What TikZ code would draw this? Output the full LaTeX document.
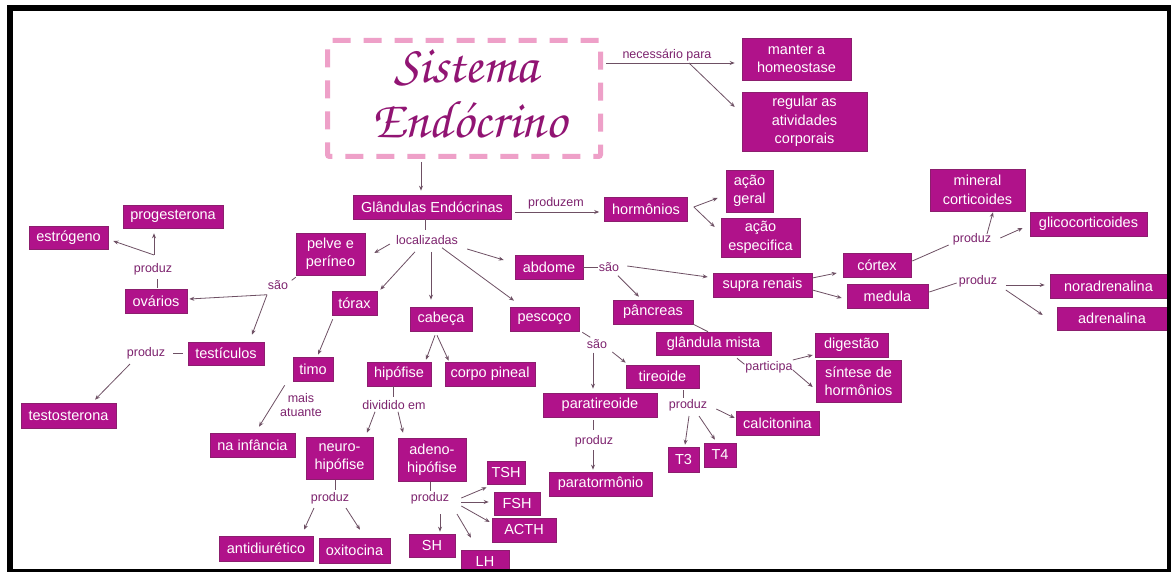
\documentclass[tikz,border=0pt]{standalone}
\usepackage{fontspec}
\setmainfont{Liberation Sans}
\newfontfamily\titlefont{texgyrechorus-mediumitalic.otf}
\usetikzlibrary{arrows.meta,calc}
\definecolor{boxc}{RGB}{176,18,138}
\definecolor{boxd}{RGB}{140,30,110}
\definecolor{lblc}{RGB}{125,35,110}
\definecolor{arrc}{RGB}{110,80,100}
\definecolor{titc}{RGB}{145,20,115}
\definecolor{dashc}{RGB}{238,160,200}
\newcommand\boxfont{\fontsize{14.5}{18.5}\selectfont}
\newcommand\lblfont{\fontsize{12.5}{14}\selectfont}
\tikzset{
  box/.style={fill=boxc, draw=boxd, line width=0.6pt, text=white, font=\boxfont, align=center, inner sep=0pt},
  sz/.style 2 args={minimum width=#1pt, minimum height=#2pt},
  lbl/.style={text=lblc, font=\lblfont, inner sep=1pt, align=center},
  conn/.style={draw=arrc, line width=0.8pt},
  arr/.style={conn, -{Stealth[length=5pt,width=4pt]}},
  titletxt/.style={text=titc, font=\titlefont\fontsize{53}{53}\selectfont, inner sep=0pt}
}
\begin{document}
\begin{tikzpicture}[x=1pt,y=-1pt]
\useasboundingbox (0,0) rectangle (1171,572);
\fill[white] (0,0) rectangle (1171,572);
% title
\node[draw=dashc, line width=5pt, dash pattern=on 18pt off 13pt, minimum width=273pt, minimum height=116pt, rounded corners=2pt] (title) at (464,98.5) {};
\node[titletxt, anchor=base] (sis) at (466,83) {Sistema};
\node[titletxt, anchor=base] (endo) at (469,138) {Endócrino};
% boxes
\node[box,sz={158}{24}] (glan) at (432,207) {Glândulas Endócrinas};
\node[box,sz={83}{24}] (horm) at (646,209) {hormônios};
\node[box,sz={47}{42}] (acger) at (749.5,191) {ação\\geral};
\node[box,sz={79}{39}] (acesp) at (760.5,237.5) {ação\\especifica};
\node[box,sz={109}{42}] (manter) at (796.5,59) {manter a\\homeostase};
\node[box,sz={125}{59}] (regular) at (804.5,121.5) {regular as\\atividades\\corporais};
\node[box,sz={69}{42}] (pelve) at (330.5,254) {pelve e\\períneo};
\node[box,sz={68}{24}] (abdome) at (549,267) {abdome};
\node[box,sz={45}{24}] (torax) at (354.5,303) {tórax};
\node[box,sz={62}{24}] (cabeca) at (441,319) {cabeça};
\node[box,sz={69}{24}] (pescoco) at (544.5,319) {pescoço};
\node[box,sz={40}{24}] (timo) at (313,369) {timo};
\node[box,sz={64}{24}] (hipof) at (399,374) {hipófise};
\node[box,sz={90}{24}] (pineal) at (490,374) {corpo pineal};
\node[box,sz={80}{24}] (pancreas) at (653,312) {pâncreas};
\node[box,sz={115}{23}] (mista) at (713.5,343.5) {glândula mista};
\node[box,sz={99}{24}] (supra) at (762.5,285) {supra renais};
\node[box,sz={68}{24}] (cortex) at (877,265) {córtex};
\node[box,sz={81}{24}] (medula) at (887.5,296) {medula};
\node[box,sz={95}{42}] (mineral) at (977.5,190) {mineral\\corticoides};
\node[box,sz={117}{24}] (glico) at (1088.5,224) {glicocorticoides};
\node[box,sz={117}{24}] (norad) at (1108.5,286) {noradrenalina};
\node[box,sz={110}{23}] (adren) at (1112,318.5) {adrenalina};
\node[box,sz={73}{24}] (digest) at (851.5,345) {digestão};
\node[box,sz={85}{42}] (sintese) at (858.5,381) {síntese de\\hormônios};
\node[box,sz={73}{23}] (tireoide) at (662.5,376.5) {tireoide};
\node[box,sz={114}{24}] (parat) at (600,405) {paratireoide};
\node[box,sz={103}{24}] (paratorm) at (600.5,484) {paratormônio};
\node[box,sz={31}{25}] (T3) at (683.5,459.5) {T3};
\node[box,sz={32}{24}] (T4) at (720,455) {T4};
\node[box,sz={83}{24}] (calcit) at (777.5,423) {calcitonina};
\node[box,sz={100}{23}] (progest) at (173,216.5) {progesterona};
\node[box,sz={79}{23}] (estrog) at (68.5,237.5) {estrógeno};
\node[box,sz={62}{24}] (ovarios) at (156,301) {ovários};
\node[box,sz={76}{23}] (testic) at (226,353.5) {testículos};
\node[box,sz={95}{25}] (testost) at (68.5,415.5) {testosterona};
\node[box,sz={85}{24}] (infancia) at (252.5,445) {na infância};
\node[box,sz={67}{42}] (neuro) at (339.5,458) {neuro-\\hipófise};
\node[box,sz={68}{43}] (adeno) at (432,459.5) {adeno-\\hipófise};
\node[box,sz={94}{25}] (antid) at (266,548.5) {antidiurético};
\node[box,sz={71}{25}] (oxit) at (354.5,550.5) {oxitocina};
\node[box,sz={38}{23}] (TSH) at (506,472.5) {TSH};
\node[box,sz={46}{23}] (FSH) at (517,503.5) {FSH};
\node[box,sz={64}{24}] (ACTH) at (524,530) {ACTH};
\node[box,sz={46}{23}] (SH) at (432,545.5) {SH};
\node[box,sz={48}{24}] (LH) at (485,562) {LH};
% labels
\node[lbl] (necess) at (667,55) {necessário para};
\node[lbl] (produzem) at (556,203) {produzem};
\node[lbl] (loc) at (427,240) {localizadas};
\node[lbl] (saoabd) at (609,267) {são};
\node[lbl] (saopel) at (278,285) {são};
\node[lbl] (prodov) at (153,269) {produz};
\node[lbl] (prodte) at (146,353) {produz};
\node[lbl] (mais) at (301,405) {mais\\atuante};
\node[lbl] (divid) at (394,405) {dividido em};
\node[lbl] (prodne) at (330,498) {produz};
\node[lbl] (prodad) at (430,498) {produz};
\node[lbl] (saopes) at (597,344) {são};
\node[lbl] (prodpa) at (594,441) {produz};
\node[lbl] (prodti) at (688,405) {produz};
\node[lbl] (particip) at (769,367) {participa};
\node[lbl] (prodco) at (972,239) {produz};
\node[lbl] (prodme) at (978,281) {produz};
% connectors
\draw[arr] ($(title.south)+(-43,3)$) -- ($(glan.north)+(-11,-4)$);
\draw[arr] ($(title.east)+(3,-35.5)$) -- ($(manter.west)+(-7,4)$);
\draw[arr] ($(title.east)+(86,-35.5)$) -- ($(regular.west)+(-7,-14.5)$);
\draw[arr] ($(glan.east)+(4,5)$) -- ($(horm.west)+(-5,3)$);
\draw[arr] ($(horm.east)+(6,-2)$) -- ($(acger.west)+(-8,7)$);
\draw[arr] ($(horm.east)+(6,-2)$) -- ($(acesp.west)+(-6,-10.5)$);
\draw[conn] ($(glan.south)+(-7,0)$) -- ++(0,11);
\draw[arr] ($(loc.west)+(-5,4)$) -- ($(pelve.east)+(9,-1)$);
\draw[arr] ($(loc.south)+(-12,6)$) -- ($(torax.north east)+(3,-1)$);
\draw[arr] ($(loc.south)+(4,6)$) -- ($(cabeca.north)+(-10,-7)$);
\draw[arr] ($(loc.south)+(15,2)$) -- ($(pescoco.north)+(-30.5,-6)$);
\draw[arr] ($(loc.east)+(8,9)$) -- ($(abdome.west)+(-11,-7)$);
\draw[conn] (abdome.east) -- (saoabd.west);
\draw[arr] ($(saoabd.east)+(7,-1)$) -- ($(supra.west)+(-5,-8)$);
\draw[arr] ($(saoabd.south)+(9,3)$) -- ($(pancreas.north)+(-14,-3)$);
\draw[conn] (pancreas.south east) -- ($(mista.north)+(-5.5,0)$);
\draw[arr] ($(cabeca.south)+(-6,4)$) -- ($(hipof.north)+(27,-2)$);
\draw[arr] ($(cabeca.south)+(-4,4)$) -- ($(pineal.north west)+(4,-1)$);
\draw[arr] ($(torax.south west)+(1,4)$) -- ($(timo.north)+(5,-2)$);
\draw[arr] ($(timo.south west)+(-8,4)$) -- ($(infancia.north)+(6.5,-6)$);
\draw[conn] ($(pescoco.south east)+(3,1)$) -- ($(pescoco.south east)+(11,6)$);
\draw[arr] ($(saopes.east)+(4,8)$) -- ($(tireoide.north west)+(0,-2)$);
\draw[arr] ($(saopes.south)+(-4,3)$) -- ($(parat.north)+(-7,-4)$);
\draw[conn] ($(parat.south)+(-7,3)$) -- ++(0,10);
\draw[arr] ($(prodpa.south)+(-1,2)$) -- ($(paratorm.north)+(-7.5,-2)$);
\draw[conn] ($(tireoide.south)+(20.5,2)$) -- ++(0,8);
\draw[arr] ($(prodti.south)+(1,4)$) -- ($(T3.north)+(1.5,-2)$);
\draw[arr] ($(prodti.south)+(11,4)$) -- ($(T4.north)+(-5,-3)$);
\draw[arr] ($(prodti.east)+(8,4)$) -- ($(calcit.west)+(-1,-5)$);
\draw[conn] ($(mista.south)+(23.5,3)$) -- ($(mista.south)+(31,9)$);
\draw[arr] ($(particip.east)+(-1,-7)$) -- ($(digest.west)+(-2,10)$);
\draw[arr] ($(particip.east)+(-1,3)$) -- ($(sintese.west)+(-3,6)$);
\draw[arr] ($(supra.east)+(0,-7)$) -- ($(cortex.west)+(-6,8)$);
\draw[arr] ($(supra.east)+(0,5)$) -- ($(medula.west)+(-5,2)$);
\draw[conn] ($(cortex.east)+(1,-4)$) -- ($(prodco.west)+(-3,6)$);
\draw[arr] ($(prodco.north)+(15,2)$) -- ($(mineral.south)+(15.5,1)$);
\draw[arr] ($(prodco.east)+(8,-1)$) -- ($(glico.west)+(-7,4)$);
\draw[conn] ($(medula.east)+(1,-4)$) -- ($(prodme.west)+(-1,2)$);
\draw[arr] ($(prodme.east)+(7.5,4)$) -- ($(norad.west)+(-5,-1)$);
\draw[arr] ($(prodme.east)+(7.5,9)$) -- ($(adren.west)+(-14,-3.5)$);
\draw[conn] ($(pelve.south west)+(0,2)$) -- ++(-4,3);
\draw[arr] ($(saopel.south)+(-11,4)$) -- ($(ovarios.east)+(2,-2)$);
\draw[arr] ($(saopel.south)+(-11,4)$) -- ($(testic.north)+(26,-7)$);
\draw[conn] ($(ovarios.north)+(1,-1)$) -- ++(0,-9);
\draw[arr] ($(prodov.north)+(1,-7)$) -- ($(estrog.east)+(5,3.5)$);
\draw[arr] ($(prodov.north)+(1,-7)$) -- ($(progest.south)+(-19,5)$);
\draw[conn] ($(testic.west)+(-5,0)$) -- ($(testic.west)+(-15,0)$);
\draw[arr] ($(prodte.south)+(-16,4)$) -- ($(testost.north)+(26.5,-3)$);
\draw[conn] ($(hipof.south)+(-6,0)$) -- ++(0,11);
\draw[arr] ($(divid.south)+(-19,1)$) -- ($(neuro.north)+(27.5,-4)$);
\draw[arr] ($(divid.south)+(4,1)$) -- ($(adeno.north)+(-29,-5)$);
\draw[conn] ($(neuro.south)+(-4.5,1)$) -- ++(0,10);
\draw[arr] ($(prodne.south)+(-16,3)$) -- ($(antid.north)+(38,-6)$);
\draw[arr] ($(prodne.south)+(16,3)$) -- ($(oxit.north)+(5.5,-8)$);
\draw[conn] ($(adeno.south)+(-2,1)$) -- ++(0,9);
\draw[arr] ($(prodad.east)+(11,0)$) -- ($(TSH.south west)+(0,3)$);
\draw[arr] ($(prodad.east)+(11,4)$) -- ($(FSH.west)+(-5,-1.5)$);
\draw[arr] ($(prodad.east)+(11,8)$) -- ($(ACTH.west)+(-2,-8)$);
\draw[arr] ($(prodad.south)+(10,9)$) -- ($(SH.north)+(8,-2)$);
\draw[arr] ($(prodad.south)+(27,9)$) -- ($(LH.north)+(-14,-12)$);
% frame
\draw[line width=6pt] (10,8) rectangle (1170,572);
\end{tikzpicture}
\end{document}
